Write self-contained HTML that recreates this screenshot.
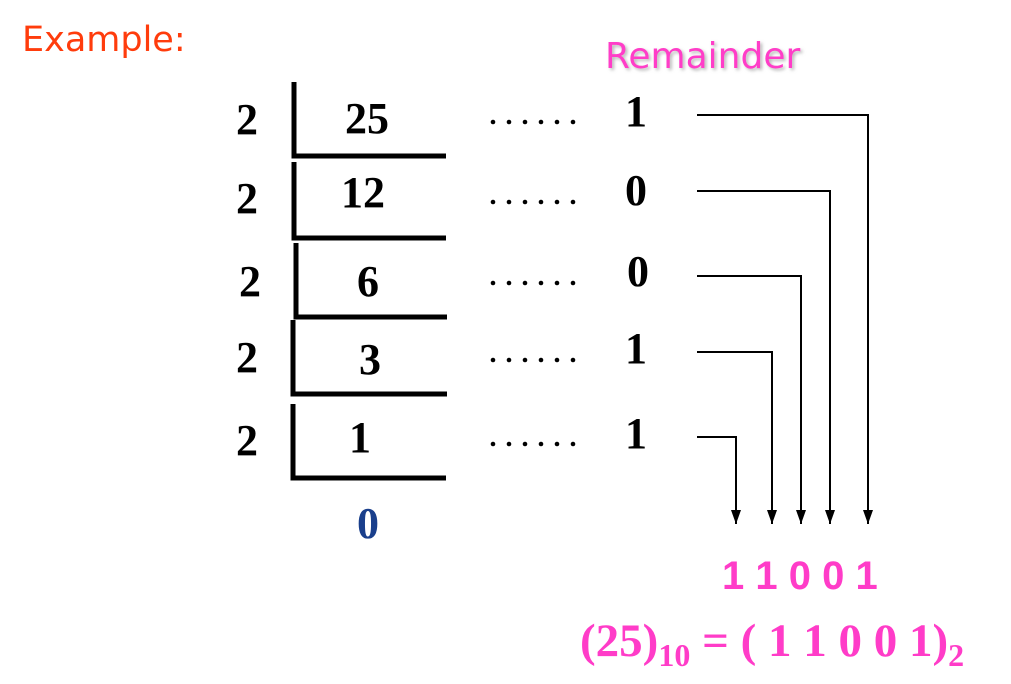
<!DOCTYPE html>
<html><head><meta charset="utf-8"><style>
html,body{margin:0;padding:0;background:#fff;width:1011px;height:684px;overflow:hidden}
</style></head><body>
<svg width="1011" height="684" viewBox="0 0 1011 684" xmlns="http://www.w3.org/2000/svg">
<defs>
<marker id="ah" markerWidth="16" markerHeight="12" refX="14" refY="5" orient="auto" markerUnits="userSpaceOnUse">
<path d="M0,0 L14,5 L0,10 Z" fill="#000"/>
</marker>
<filter id="sh"><feDropShadow dx="2" dy="2" stdDeviation="1.5" flood-color="#999" flood-opacity="0.7"/></filter>
</defs>
<text x="22" y="51" font-family="'Comic Sans MS','DejaVu Sans',sans-serif" font-size="35" fill="#ff3c0c">Example:</text>
<text x="605" y="68" font-family="'Comic Sans MS','DejaVu Sans',sans-serif" font-size="36" fill="#ff3cc8" filter="url(#sh)">Remainder</text>

<g font-family="'Liberation Serif',serif" font-weight="bold" font-size="44" fill="#000">
<text x="247" y="134" text-anchor="middle">2</text>
<text x="247" y="213" text-anchor="middle">2</text>
<text x="250" y="296" text-anchor="middle">2</text>
<text x="247" y="372" text-anchor="middle">2</text>
<text x="247" y="455" text-anchor="middle">2</text>
<text x="367" y="133" text-anchor="middle">25</text>
<text x="363" y="207" text-anchor="middle">12</text>
<text x="368" y="296" text-anchor="middle">6</text>
<text x="370" y="374" text-anchor="middle">3</text>
<text x="360" y="452" text-anchor="middle">1</text>
<text x="368" y="538" text-anchor="middle" fill="#1a3f8c">0</text>
<text x="636" y="126" text-anchor="middle">1</text>
<text x="636" y="205" text-anchor="middle">0</text>
<text x="638" y="286" text-anchor="middle">0</text>
<text x="636" y="363" text-anchor="middle">1</text>
<text x="636" y="448" text-anchor="middle">1</text>
</g>

<g stroke="#000" stroke-width="5" fill="none">
<path d="M294,82 V156 H446"/>
<path d="M294,162 V238 H446"/>
<path d="M296,243 V317 H447"/>
<path d="M293,320 V394 H447"/>
<path d="M293,404 V478 H446"/>
</g>

<g fill="#000">
<g id="d1"><circle cx="493" cy="122" r="2.3"/><circle cx="509" cy="122" r="2.3"/><circle cx="525" cy="122" r="2.3"/><circle cx="541" cy="122" r="2.3"/><circle cx="557" cy="122" r="2.3"/><circle cx="573" cy="122" r="2.3"/></g>
<use href="#d1" y="80"/>
<use href="#d1" y="161"/>
<use href="#d1" y="238"/>
<use href="#d1" y="322"/>
</g>

<g stroke="#000" stroke-width="2" fill="none" marker-end="url(#ah)">
<path d="M697,115 H868 V524"/>
<path d="M697,191 H830 V524"/>
<path d="M697,276 H801 V524"/>
<path d="M697,352 H772 V524"/>
<path d="M697,437 H736 V524"/>
</g>

<text x="722" y="589" font-family="'Liberation Sans',sans-serif" font-weight="bold" font-size="40" fill="#ff3cc8">1 1 0 0 1</text>
<text x="580" y="656" font-family="'Liberation Serif',serif" font-weight="bold" font-size="47" fill="#ff3cc8">(25)<tspan font-size="32" dy="10">10</tspan><tspan dy="-10"> = ( 1 1 0 0 1)</tspan><tspan font-size="32" dy="10">2</tspan></text>
</svg>
</body></html>
